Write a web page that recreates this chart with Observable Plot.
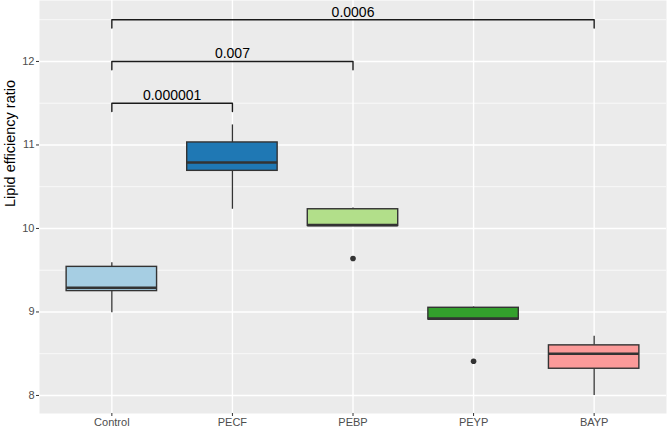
<!DOCTYPE html>
<html><head><meta charset="utf-8">
<script src="https://cdn.jsdelivr.net/npm/d3@7"></script>
<script src="https://cdn.jsdelivr.net/npm/@observablehq/plot@0.6"></script>
<style>html,body{margin:0;padding:0;background:#fff}</style>
</head><body><div id="chart"></div>
<script>
const categories = ["Control", "PECF", "PEBP", "PEYP", "BAYP"];
const colors = ["#A6CEE3", "#1F78B4", "#B2DF8A", "#33A02C", "#FB9A99"];
const whiskerLow = [8.99, 10.23, 10.03, 8.91, 8.00];
const q1 = [9.25, 10.69, 10.03, 8.91, 8.32];
const median = [9.29, 10.79, 10.04, 8.92, 8.50];
const q3 = [9.54, 11.03, 10.23, 9.05, 8.60];
const whiskerHigh = [9.59, 11.24, 10.245, 9.06, 8.71];
const outlierGroup = ["PEBP", "PEYP"];
const outlierValue = [9.64, 8.41];
const bracketFrom = ["Control", "Control", "Control"];
const bracketTo = ["PECF", "PEBP", "BAYP"];
const bracketY = [11.5, 12.0, 12.5];
const bracketLabel = ["0.000001", "0.007", "0.0006"];
const yTicks = [8, 9, 10, 11, 12];
const yMinor = [8.5, 9.5, 10.5, 11.5, 12.5];

const idx = c => categories.indexOf(c) + 1;
const boxes = categories.map((c, i) => ({
  pos: i + 1, lo: whiskerLow[i], q1: q1[i], med: median[i], q3: q3[i], hi: whiskerHigh[i], color: colors[i]
}));
const outliers = outlierGroup.map((g, i) => ({pos: idx(g), v: outlierValue[i]}));
const tickDrop = 0.1;
const bracketPts = [];
bracketFrom.forEach((f, i) => {
  const a = idx(f), b = idx(bracketTo[i]), y = bracketY[i];
  bracketPts.push({k: i, x: a, y: y - tickDrop}, {k: i, x: a, y}, {k: i, x: b, y}, {k: i, x: b, y: y - tickDrop});
});
const bracketText = bracketFrom.map((f, i) => ({x: (idx(f) + idx(bracketTo[i])) / 2, y: bracketY[i], t: bracketLabel[i]}));
const half = 0.375;

const plot = Plot.plot({
  width: 667, height: 430,
  marginLeft: 39, marginRight: 1, marginTop: 0, marginBottom: 17,
  style: {fontFamily: "'Liberation Sans', Arial, Helvetica, sans-serif", background: "#fff"},
  x: {type: "linear", domain: [0.4, 5.6]},
  y: {domain: [7.784, 12.73]},
  marks: [
    Plot.frame({fill: "#EBEBEB", stroke: "none"}),
    Plot.ruleY(yMinor, {stroke: "#fff", strokeWidth: 0.7}),
    Plot.ruleY(yTicks, {stroke: "#fff", strokeWidth: 1.4}),
    Plot.ruleX(categories.map((c, i) => i + 1), {stroke: "#fff", strokeWidth: 1.4}),
    Plot.axisY({ticks: yTicks, tickFormat: d => String(d), tickSize: 3, tickPadding: 2, fontSize: 11, color: "#4D4D4D", label: null, stroke: "#333"}),
    Plot.axisX({ticks: [1, 2, 3, 4, 5], tickFormat: i => categories[i - 1], tickSize: 3, tickPadding: 2, fontSize: 11, color: "#4D4D4D", label: null, stroke: "#333"}),
    Plot.text(["Lipid efficiency ratio"], {frameAnchor: "left", rotate: -90, dx: -29, fontSize: 14.5, fill: "#000"}),
    Plot.ruleX(boxes, {x: "pos", y1: "q3", y2: "hi", stroke: "#333", strokeWidth: 1.3}),
    Plot.ruleX(boxes, {x: "pos", y1: "lo", y2: "q1", stroke: "#333", strokeWidth: 1.3}),
    Plot.rect(boxes, {x1: d => d.pos - half, x2: d => d.pos + half, y1: "q1", y2: "q3", fill: "color", stroke: "#333", strokeWidth: 1.4}),
    Plot.ruleY(boxes, {x1: d => d.pos - half, x2: d => d.pos + half, y: "med", stroke: "#333", strokeWidth: 2.6}),
    Plot.dot(outliers, {x: "pos", y: "v", r: 2.8, fill: "#333", stroke: "none"}),
    Plot.line(bracketPts, {x: "x", y: "y", z: "k", stroke: "#1a1a1a", strokeWidth: 1.4, curve: "linear"}),
    Plot.text(bracketText, {x: "x", y: "y", text: "t", dy: -3, lineAnchor: "bottom", fontSize: 14, fill: "#000"})
  ]
});
document.getElementById("chart").appendChild(plot);
</script>
</body></html>
